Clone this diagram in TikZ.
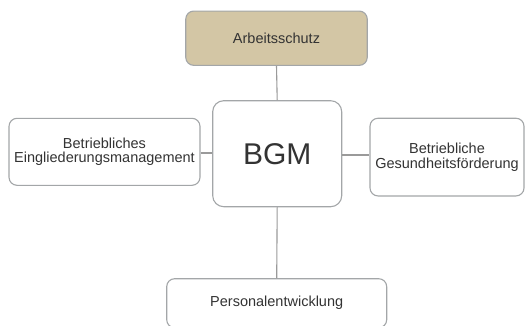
\documentclass[tikz,border=0pt]{standalone}
\usepackage{fontspec}
\setmainfont{Liberation Sans}
\definecolor{boxborder}{HTML}{A3A6A8}
\definecolor{linecol}{HTML}{9A9A9A}
\definecolor{tan}{HTML}{D3C6A5}
\definecolor{txt}{HTML}{333333}
\begin{document}
\begin{tikzpicture}[x=1pt,y=-1pt,
  box/.style={draw=boxborder,line width=1.1pt,fill=white,rounded corners=8pt,
    text=txt,font=\fontsize{14.5}{14.5}\selectfont,align=center,inner sep=0pt},
  conn/.style={draw=linecol,line width=1.1pt}]
\useasboundingbox (0,0) rectangle (527,325);
\node[box,fill=tan,minimum width=181.5pt,minimum height=54.3pt] (arb) at (276.5,38.2) {Arbeitsschutz};
\node[box,rounded corners=11pt,minimum width=129pt,minimum height=106pt,font=\fontsize{30}{30}\selectfont] (bgm) at (277.2,153.7) {BGM};
\node[box,minimum width=191pt,minimum height=67pt] (bem) at (104.5,151.8) {Betriebliches\\Eingliederungsmanagement};
\node[box,minimum width=154pt,minimum height=77.7pt] (bgf) at (447,157.1) {Betriebliche\\Gesundheitsförderung};
\node[box,minimum width=220pt,minimum height=49pt] (pe) at (276.7,303.2) {Personalentwicklung};
\draw[conn] (arb.south) -- (bgm.north);
\draw[conn] (bgm.south) -- (pe.north);
\draw[conn] (bem.east |- 0,153) -- (bgm.west |- 0,153);
\draw[conn] (bgm.east |- 0,155) -- (bgf.west |- 0,155);
\end{tikzpicture}
\end{document}
